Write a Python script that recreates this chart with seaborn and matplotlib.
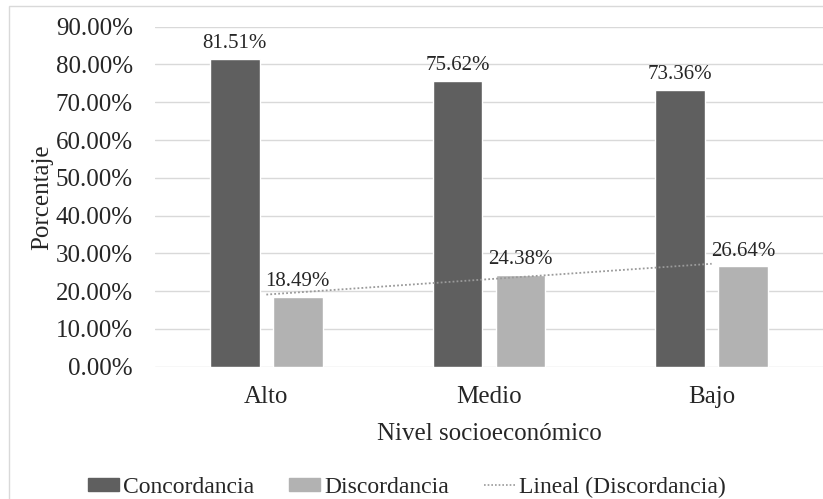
import numpy as np
import pandas as pd
import matplotlib
matplotlib.use('Agg')
import matplotlib.pyplot as plt
import matplotlib.ticker as mtick
from matplotlib.lines import Line2D
from matplotlib.patches import Rectangle
import seaborn as sns

# data
niveles = ['Alto', 'Medio', 'Bajo']
concordancia = [81.51, 75.62, 73.36]
discordancia = [18.49, 24.38, 26.64]
series = ['Concordancia', 'Discordancia']
colores = ['#5f5f5f', '#b2b2b2']

df = pd.DataFrame({
    'Nivel': niveles * 2,
    'Serie': [series[0]] * 3 + [series[1]] * 3,
    'Valor': concordancia + discordancia,
})

sns.set_style('white')
plt.rcParams['font.family'] = ['Liberation Serif', 'DejaVu Serif']

fig = plt.figure(figsize=(8.23, 4.99), dpi=100)
ax = fig.add_axes([155 / 823, 1 - 366.7 / 499, 1 - 155 / 823, 340 / 499])

sns.barplot(data=df, x='Nivel', y='Valor', hue='Serie', order=niveles,
            hue_order=series, palette=colores, width=0.565, gap=0.207,
            saturation=1, ax=ax, legend=False, zorder=3)

for c in ax.containers:
    ax.bar_label(c, fmt='{:.2f}%', padding=4, fontsize=15)

# linear trend of Discordancia
xs = np.arange(len(niveles))
coef = np.polyfit(xs, discordancia, 1)
ax.plot(xs, np.polyval(coef, xs), color='#9a9a9a', lw=1.3,
        linestyle=(0, (1, 1.2)), zorder=4)

ax.set_xlim(-0.5, 2.5)
ax.set_ylim(0, 90)
ax.set_yticks(np.arange(0, 91, 10))
ax.yaxis.set_major_formatter(mtick.FuncFormatter(lambda v, p: f'{v:.2f}%'))
ax.grid(axis='y', color='#d9d9d9', lw=1, zorder=0)
ax.set_axisbelow(True)
for s in ax.spines.values():
    s.set_visible(False)
ax.tick_params(axis='y', length=0, pad=16, labelsize=18)
ax.tick_params(axis='x', length=0, pad=14, labelsize=18)
ax.set_xlabel('Nivel socioeconómico', fontsize=18, labelpad=11)
ax.set_ylabel('Porcentaje', fontsize=18, labelpad=2)

handles = [Rectangle((0, 0), 1, 1, color=colores[0]),
           Rectangle((0, 0), 1, 1, color=colores[1]),
           Line2D([0], [0], color='#9a9a9a', lw=1.2, linestyle=(0, (1, 1.2)))]
fig.legend(handles, ['Concordancia', 'Discordancia', 'Lineal (Discordancia)'],
           loc='center', bbox_to_anchor=(407 / 823, 1 - 487 / 499), ncol=3,
           frameon=False, fontsize=17, handlelength=1.31, handleheight=0.47,
           handletextpad=0.17, columnspacing=1.48)

fig.patches.append(Rectangle((9 / 823, -0.1), 2, 1 - 6 / 499 + 0.1, fill=False,
                             edgecolor='#d9d9d9', lw=1, transform=fig.transFigure))

fig.savefig('out.png', dpi=100)
